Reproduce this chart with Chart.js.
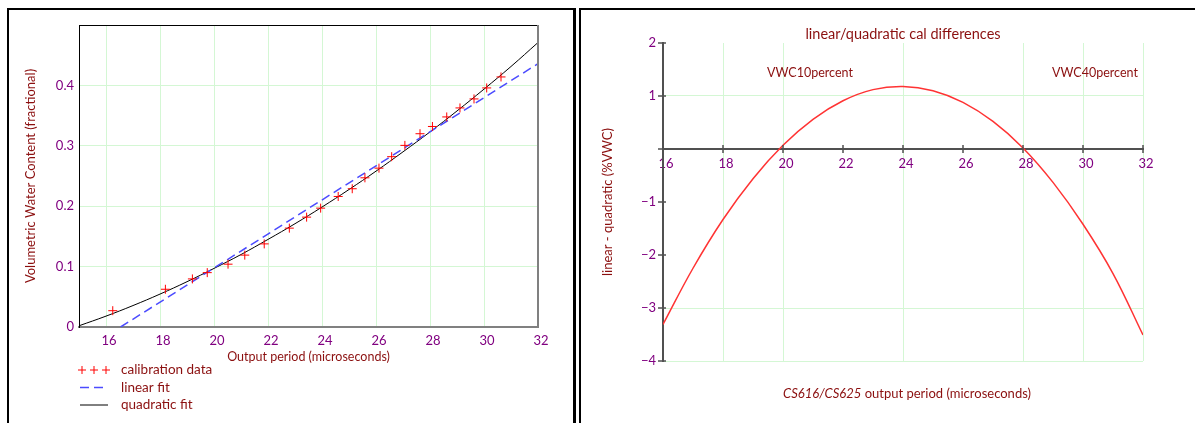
<!DOCTYPE html>
<html>
<head>
<meta charset="utf-8">
<script src="https://cdn.jsdelivr.net/npm/chart.js@4.4.0/dist/chart.umd.min.js"></script>
<style>
  body { margin: 0; background: #fff; width: 1195px; height: 423px; overflow: hidden; position: relative; }
  .panel { position: absolute; box-sizing: border-box; background: #fff; }
  #leftPanel { left: 7px; top: 8px; width: 569px; height: 430px; border-top: 2px solid #000; border-left: 2px solid #000; border-right: 3px solid #000; }
  #rightPanel { left: 579px; top: 8px; width: 616px; height: 430px; border-top: 2px solid #000; border-left: 2px solid #000; }
  canvas { position: absolute; left: 0; top: 0; }
</style>
</head>
<body>
<div class="panel" id="leftPanel"><canvas id="calChart" width="564" height="413"></canvas></div>
<div class="panel" id="rightPanel"><canvas id="diffChart" width="614" height="413"></canvas></div>
<script>
var FONT = 'Lato, "Noto Sans", sans-serif';
var tickColor = '#800080';
var titleColor = '#8b0f0f';
var gridGreen = '#d4f7d4';
var noGrid = 'rgba(0,0,0,0)';

// calibration panel
var calPeriod = [16.25, 18.2, 19.2, 19.75, 20.52, 21.14, 21.86, 22.79, 23.43, 23.95, 24.6, 25.12,
                 25.59, 26.11, 26.58, 27.07, 27.63, 28.09, 28.62, 29.11, 29.63, 30.1, 30.63];
var calVWC = [0.027, 0.0625, 0.0796, 0.090, 0.104, 0.119, 0.1376, 0.1637, 0.1819, 0.1968, 0.2161, 0.2289,
              0.247, 0.263, 0.282, 0.3007, 0.320, 0.332, 0.3478, 0.3627, 0.3776, 0.3958, 0.414];
var linPeriod = [16.54, 32];
var linVWC = [0, 0.436];
var quadPeriod = [15, 16, 17, 18, 19, 20, 21, 22, 23, 24, 25, 26, 27, 28, 29, 30, 31, 32];
var quadVWC = [0.002, 0.018, 0.0355, 0.0545, 0.075, 0.097, 0.120, 0.145, 0.171, 0.1986, 0.2276, 0.258,
               0.290, 0.323, 0.3577, 0.3938, 0.4313, 0.471];
var periodTicks = [16, 18, 20, 22, 24, 26, 28, 30, 32];
var vwcTicks = [0, 0.1, 0.2, 0.3, 0.4, 0.5];

// differences panel
var diffPeriod = [16, 17, 18, 19, 20, 21, 22, 23, 24, 25, 26, 27, 28, 29, 30, 31, 32];
var diffPct = [-3.31, -2.25, -1.33, -0.56, 0.07, 0.56, 0.91, 1.12, 1.18, 1.10, 0.88, 0.52, 0.02,
               -0.63, -1.42, -2.35, -3.51];
var diffTicks = [-4, -3, -2, -1, 0, 1, 2];
var diffGridX = [18, 20, 24, 28, 30, 32];
var diffGridY = [1, -3, -4];
var diffNotes = ['VWC10percent', 'VWC40percent'];
var notePeriod = [20.9, 30.4];
var noteDiff = [1.43, 1.43];

function pts(xs, ys) {
  return xs.map(function (x, i) { return { x: x, y: ys[i] }; });
}
function fixTicks(list) {
  return function (scale) { scale.ticks = list.map(function (v) { return { value: v }; }); };
}

// legend under the left plot, plus top/right frame
var calDecor = {
  id: 'calDecor',
  afterDraw: function (chart) {
    var ctx = chart.ctx, a = chart.chartArea;
    ctx.save();
    ctx.strokeStyle = '#000'; ctx.lineWidth = 1;
    ctx.beginPath(); ctx.moveTo(a.left, a.top + 0.5); ctx.lineTo(a.right, a.top + 0.5); ctx.stroke();
    ctx.strokeStyle = '#808080'; ctx.lineWidth = 2;
    ctx.beginPath(); ctx.moveTo(a.right, a.top); ctx.lineTo(a.right, a.bottom + 1); ctx.stroke();

    var x0 = a.left + 1, y0 = a.bottom + 43;
    chart.data.datasets.forEach(function (ds, i) {
      var y = y0 + i * 17.5;
      ctx.strokeStyle = ds.borderColor;
      ctx.lineWidth = ds.borderWidth;
      if (ds.showLine) {
        ctx.setLineDash(ds.borderDash || []);
        ctx.beginPath(); ctx.moveTo(x0, y); ctx.lineTo(x0 + 28, y); ctx.stroke();
        ctx.setLineDash([]);
      } else {
        for (var k = 0; k < 3; k++) {
          var cx = x0 + 2 + k * 12;
          ctx.beginPath();
          ctx.moveTo(cx - 4, y); ctx.lineTo(cx + 4, y);
          ctx.moveTo(cx, y - 4); ctx.lineTo(cx, y + 4);
          ctx.stroke();
        }
      }
      ctx.fillStyle = titleColor;
      ctx.font = '13.5px ' + FONT;
      ctx.textBaseline = 'middle';
      ctx.fillText(ds.label, x0 + 41, y);
    });
    ctx.restore();
  }
};

new Chart(document.getElementById('calChart'), {
  type: 'scatter',
  data: {
    datasets: [
      { label: 'calibration data', data: pts(calPeriod, calVWC), pointStyle: 'cross', pointRadius: 4.5,
        borderColor: '#ff0000', borderWidth: 1, showLine: false },
      { label: 'linear fit', data: pts(linPeriod, linVWC), showLine: true, pointRadius: 0,
        borderColor: '#4b4bff', borderWidth: 1.5, borderDash: [9, 5] },
      { label: 'quadratic fit', data: pts(quadPeriod, quadVWC), showLine: true, pointRadius: 0,
        borderColor: '#000', borderWidth: 1, tension: 0.4 }
    ]
  },
  options: {
    responsive: false,
    animation: false,
    layout: { padding: { left: 0, top: 15, right: 35, bottom: 59 } },
    plugins: { legend: { display: false }, tooltip: { enabled: false } },
    scales: {
      x: {
        type: 'linear', min: 15, max: 32,
        afterBuildTicks: fixTicks(periodTicks),
        afterFit: function (s) { s.height = 37; },
        grid: { color: function (c) { return c.tick && c.tick.value < 32 ? gridGreen : noGrid; }, drawTicks: false },
        border: { color: '#808080', width: 2 },
        ticks: { color: tickColor, font: { family: FONT, size: 13 }, padding: 6, labelOffset: 3, maxRotation: 0, autoSkip: false },
        title: { display: true, text: 'Output period (microseconds)', color: titleColor,
                 font: { family: FONT, size: 12.5 }, padding: 0 }
      },
      y: {
        min: 0, max: 0.5,
        afterBuildTicks: fixTicks(vwcTicks),
        afterFit: function (s) { s.width = 70; },
        grid: { color: function (c) { return c.tick && c.tick.value > 0 && c.tick.value < 0.5 ? gridGreen : noGrid; }, drawTicks: false },
        border: { color: '#000', width: 1 },
        ticks: { color: tickColor, font: { family: FONT, size: 13 }, padding: 5,
                 callback: function (v) { return v >= 0.5 ? '' : String(+v.toFixed(1)); } },
        title: { display: true, text: 'Volumetric Water Content (fractional)', color: titleColor,
                 font: { family: FONT, size: 13 }, padding: { top: 14 } }
      }
    }
  },
  plugins: [calDecor]
});

// crossing tick marks, title, notes and x title for the right plot
var diffDecor = {
  id: 'diffDecor',
  afterDraw: function (chart) {
    var ctx = chart.ctx, a = chart.chartArea, xs = chart.scales.x, ys = chart.scales.y;
    var yZero = ys.getPixelForValue(0);
    ctx.save();
    ctx.strokeStyle = '#505050';
    ctx.lineWidth = 1.5;
    ctx.beginPath();
    xs.ticks.forEach(function (t) {
      var px = xs.getPixelForValue(t.value);
      ctx.moveTo(px, yZero - 4); ctx.lineTo(px, yZero + 4);
    });
    ys.ticks.forEach(function (t) {
      var py = ys.getPixelForValue(t.value);
      ctx.moveTo(a.left - 5, py); ctx.lineTo(a.left + 3, py);
    });
    ctx.stroke();

    ctx.fillStyle = titleColor;
    ctx.textAlign = 'center';
    ctx.textBaseline = 'middle';
    ctx.font = '14.5px ' + FONT;
    ctx.fillText('linear/quadratic cal differences', (a.left + a.right) / 2, a.top - 9);
    ctx.font = '12.5px ' + FONT;
    diffNotes.forEach(function (txt, i) {
      ctx.fillText(txt, xs.getPixelForValue(notePeriod[i]), ys.getPixelForValue(noteDiff[i]));
    });

    var parts = [['CS616/CS625', 'italic 13px '], [' output period (microseconds)', '13px ']];
    var total = 0;
    parts.forEach(function (p) { ctx.font = p[1] + FONT; total += ctx.measureText(p[0]).width; });
    var x = (a.left + a.right) / 2 + 4 - total / 2;
    ctx.textAlign = 'left';
    parts.forEach(function (p) {
      ctx.font = p[1] + FONT;
      ctx.fillText(p[0], x, a.bottom + 33);
      x += ctx.measureText(p[0]).width;
    });
    ctx.restore();
  }
};

new Chart(document.getElementById('diffChart'), {
  type: 'scatter',
  data: {
    datasets: [
      { label: 'linear - quadratic', data: pts(diffPeriod, diffPct), showLine: true, pointRadius: 0,
        borderColor: '#ff3333', borderWidth: 1.5, tension: 0.4 }
    ]
  },
  options: {
    responsive: false,
    animation: false,
    layout: { padding: { left: 0, top: 33, right: 52, bottom: 62 } },
    plugins: { legend: { display: false }, tooltip: { enabled: false } },
    scales: {
      x: {
        type: 'linear', min: 16, max: 32, position: { y: 0 },
        afterBuildTicks: fixTicks(periodTicks),
        afterFit: function (s) { s.height = 0; },
        grid: { color: function (c) { return c.tick && diffGridX.indexOf(c.tick.value) >= 0 ? gridGreen : noGrid; }, drawTicks: false },
        border: { color: '#505050', width: 2 },
        ticks: { color: tickColor, font: { family: FONT, size: 13 }, padding: 7, labelOffset: 3, maxRotation: 0, autoSkip: false }
      },
      y: {
        min: -4, max: 2,
        afterBuildTicks: fixTicks(diffTicks),
        afterFit: function (s) { s.width = 82; },
        grid: { color: function (c) { return c.tick && diffGridY.indexOf(c.tick.value) >= 0 ? gridGreen : noGrid; }, drawTicks: false },
        border: { color: '#505050', width: 2 },
        ticks: { color: tickColor, font: { family: FONT, size: 13 }, padding: 7,
                 callback: function (v) { return v === 0 ? '' : String(v).replace('-', '\u2212'); } },
        title: { display: true, text: 'linear - quadratic (%VWC)', color: titleColor,
                 font: { family: FONT, size: 13 }, padding: { top: 19 } }
      }
    }
  },
  plugins: [diffDecor]
});
</script>
</body>
</html>
